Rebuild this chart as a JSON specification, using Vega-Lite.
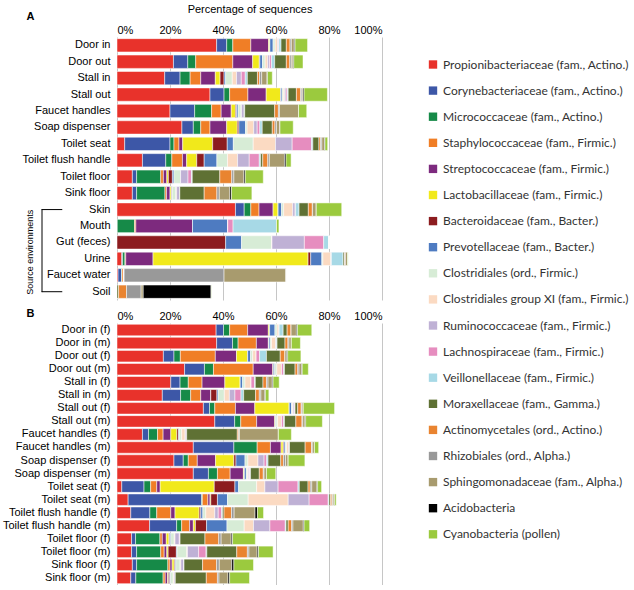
{
  "$schema": "https://vega.github.io/schema/vega-lite/v6.json",
  "background": "white",
  "padding": {"left": 1, "top": 3, "right": 0, "bottom": 0},
  "spacing": 7,
  "config": {
    "view": {"stroke": null},
    "font": "Liberation Sans",
    "axis": {
      "labelFont": "Liberation Sans", "labelFontSize": 11, "labelColor": "black",
      "titleFont": "Liberation Sans", "titleFontSize": 11, "titleFontWeight": "normal", "titleColor": "black",
      "domain": false, "ticks": false, "gridColor": "#c6c6c6", "gridWidth": 1
    },
    "legend": {
      "orient": "none", "legendX": 310, "legendY": 21.5, "padding": 0,
      "symbolType": "square", "symbolSize": 70, "symbolStrokeWidth": 0,
      "labelFont": "Lato", "labelFontSize": 12, "labelColor": "#333333", "labelLimit": 400,
      "rowPadding": 14.1, "labelOffset": 4
    }
  },
  "datasets": {
    "taxa": [
      {"k": "a", "taxon": "Propionibacteriaceae (fam., Actino.)", "ord": 1},
      {"k": "b", "taxon": "Corynebacteriaceae (fam., Actino.)", "ord": 2},
      {"k": "c", "taxon": "Micrococcaceae (fam., Actino.)", "ord": 3},
      {"k": "d", "taxon": "Staphylococcaceae (fam., Firmic.)", "ord": 4},
      {"k": "e", "taxon": "Streptococcaceae (fam., Firmic.)", "ord": 5},
      {"k": "f", "taxon": "Lactobacillaceae (fam., Firmic.)", "ord": 6},
      {"k": "g", "taxon": "Bacteroidaceae (fam., Bacter.)", "ord": 7},
      {"k": "h", "taxon": "Prevotellaceae (fam., Bacter.)", "ord": 8},
      {"k": "i", "taxon": "Clostridiales (ord., Firmic.)", "ord": 9},
      {"k": "j", "taxon": "Clostridiales group XI (fam., Firmic.)", "ord": 10},
      {"k": "k", "taxon": "Ruminococcaceae (fam., Firmic.)", "ord": 11},
      {"k": "l", "taxon": "Lachnospiraceae (fam., Firmic.)", "ord": 12},
      {"k": "m", "taxon": "Veillonellaceae (fam., Firmic.)", "ord": 13},
      {"k": "n", "taxon": "Moraxellaceae (fam., Gamma.)", "ord": 14},
      {"k": "o", "taxon": "Actinomycetales (ord., Actino.)", "ord": 15},
      {"k": "p", "taxon": "Rhizobiales (ord., Alpha.)", "ord": 16},
      {"k": "q", "taxon": "Sphingomonadaceae (fam., Alpha.)", "ord": 17},
      {"k": "r", "taxon": "Acidobacteria", "ord": 18},
      {"k": "s", "taxon": "Cyanobacteria (pollen)", "ord": 19}
    ],
    "rows": [
      {"panel":"A","lab":"Door in","a":37.6,"b":3.8,"c":2.3,"d":6.8,"e":6.7,"f":0.5,"g":0,"h":1.2,"i":0.8,"j":0.9,"k":0.3,"l":0.2,"m":0.8,"n":2,"o":1.4,"p":0.5,"q":1.1,"r":0.3,"s":4.7},
      {"panel":"A","lab":"Door out","a":21.3,"b":5.4,"c":3,"d":14,"e":7.5,"f":2.5,"g":0.2,"h":1,"i":1,"j":1,"k":0.7,"l":0.7,"m":1.2,"n":4.4,"o":1.3,"p":0.6,"q":0.6,"r":0.3,"s":3.5},
      {"panel":"A","lab":"Stall in","a":18,"b":5.8,"c":3.8,"d":4,"e":5.5,"f":1.8,"g":1.5,"h":0.6,"i":2.5,"j":1.6,"k":1.8,"l":1.5,"m":0.8,"n":3.8,"o":0.8,"p":0.8,"q":2,"r":0.2,"s":1.8},
      {"panel":"A","lab":"Stall out","a":35.1,"b":5.3,"c":2.1,"d":6.9,"e":6.9,"f":5.4,"g":0.1,"h":0.5,"i":0.5,"j":0.5,"k":0.5,"l":0.5,"m":0.3,"n":3.1,"o":1.6,"p":0.5,"q":0.4,"r":0.4,"s":8.8},
      {"panel":"A","lab":"Faucet handles","a":20,"b":9.3,"c":6.4,"d":3.6,"e":3.8,"f":1.6,"g":0.4,"h":0.6,"i":1.1,"j":0.2,"k":1,"l":0.1,"m":0.1,"n":11.3,"o":1.4,"p":0.4,"q":7.2,"r":0,"s":3.1},
      {"panel":"A","lab":"Soap dispenser","a":24.5,"b":4.3,"c":2.8,"d":3.5,"e":6.3,"f":4,"g":0.6,"h":2.5,"i":0.6,"j":2.5,"k":1.3,"l":1,"m":0.9,"n":3.8,"o":1,"p":0.6,"q":1.3,"r":0,"s":5},
      {"panel":"A","lab":"Toilet seat","a":2.9,"b":17.1,"c":1.5,"d":1.9,"e":1.4,"f":11.3,"g":5.5,"h":2.3,"i":7.5,"j":8.4,"k":6.3,"l":7.3,"m":0.5,"n":2.3,"o":0.6,"p":0.5,"q":1,"r":0.2,"s":1},
      {"panel":"A","lab":"Toilet flush handle","a":9.6,"b":8.8,"c":2.3,"d":4,"e":1.6,"f":3.8,"g":2.8,"h":4.8,"i":4,"j":3.8,"k":4.4,"l":3.8,"m":0.5,"n":0.8,"o":1.9,"p":0.6,"q":5.7,"r":0.6,"s":1.9},
      {"panel":"A","lab":"Toilet floor","a":5.8,"b":1.6,"c":9.1,"d":1,"e":1.3,"f":0.6,"g":1.5,"h":0.6,"i":2.5,"j":0,"k":2.8,"l":1.3,"m":0.3,"n":10.4,"o":4.5,"p":0.8,"q":3.8,"r":0.5,"s":6.8},
      {"panel":"A","lab":"Sink floor","a":5.8,"b":1.6,"c":10.7,"d":0.6,"e":1.3,"f":0.5,"g":0.2,"h":0.2,"i":1.3,"j":0.3,"k":1.2,"l":0,"m":0,"n":9.2,"o":4.8,"p":0.9,"q":4,"r":0.6,"s":7.7},
      {"panel":"A","lab":"Skin","a":44.7,"b":3.3,"c":2.5,"d":3.1,"e":5.3,"f":1.9,"g":0,"h":1.3,"i":0.8,"j":3.4,"k":0.9,"l":0.2,"m":1.3,"n":3.5,"o":1.5,"p":0.1,"q":1.4,"r":0,"s":9.6},
      {"panel":"A","lab":"Mouth","a":0.1,"b":0,"c":6.5,"d":0.5,"e":21.4,"f":0,"g":0,"h":13.3,"i":0,"j":0,"k":0,"l":2,"m":16.4,"n":0,"o":0,"p":0,"q":0,"r":0,"s":0.9},
      {"panel":"A","lab":"Gut (feces)","a":0,"b":0,"c":0,"d":0,"e":0,"f":0,"g":41,"h":6,"i":11.3,"j":0.2,"k":12.2,"l":7.3,"m":2,"n":0,"o":0,"p":0,"q":0,"r":0,"s":0},
      {"panel":"A","lab":"Urine","a":1.8,"b":0.3,"c":0.9,"d":0.3,"e":10.3,"f":58.5,"g":1,"h":4.2,"i":0.4,"j":3,"k":0.1,"l":0.1,"m":4.4,"n":0.5,"o":0.2,"p":0.2,"q":0.8,"r":0,"s":0.2},
      {"panel":"A","lab":"Faucet water","a":0.4,"b":1.3,"c":0.2,"d":0.8,"e":0,"f":0,"g":0,"h":0,"i":0,"j":0,"k":0,"l":0,"m":0,"n":0,"o":0,"p":37.7,"q":23.4,"r":0,"s":0},
      {"panel":"A","lab":"Soil","a":0,"b":0,"c":0,"d":0,"e":0,"f":0,"g":0,"h":0,"i":0,"j":0,"k":0,"l":0,"m":0,"n":0.6,"o":3,"p":5.5,"q":0.8,"r":25.6,"s":0.1},
      {"panel":"B","lab":"Door in (f)","a":37.4,"b":2.8,"c":2.3,"d":6.8,"e":7.8,"f":0.5,"g":0,"h":2,"i":0.8,"j":0.8,"k":0,"l":0,"m":1.5,"n":1.5,"o":1.5,"p":0,"q":2,"r":0.4,"s":5.4},
      {"panel":"B","lab":"Door in (m)","a":37.6,"b":6,"c":2.1,"d":6.9,"e":4.5,"f":0.2,"g":0,"h":0.5,"i":0.5,"j":1.5,"k":0.3,"l":0,"m":0.3,"n":3,"o":1.1,"p":0.4,"q":0.9,"r":0,"s":3.4},
      {"panel":"B","lab":"Door out (f)","a":17.5,"b":4,"c":2.4,"d":13.2,"e":8,"f":4.2,"g":0,"h":1.1,"i":0.8,"j":1.3,"k":0,"l":1.3,"m":2.6,"n":5.2,"o":1.8,"p":0,"q":0.6,"r":0.4,"s":5},
      {"panel":"B","lab":"Door out (m)","a":25.5,"b":7.5,"c":3.4,"d":15,"e":7.3,"f":0,"g":0.3,"h":0.5,"i":0.8,"j":1.8,"k":0,"l":0.8,"m":0.3,"n":4,"o":1,"p":0.5,"q":1,"r":0.2,"s":2.3},
      {"panel":"B","lab":"Stall in (f)","a":20.3,"b":3.5,"c":3.1,"d":5.2,"e":8.6,"f":5.8,"g":0,"h":0.9,"i":0.9,"j":2.3,"k":0,"l":1.3,"m":0.3,"n":2.9,"o":1.3,"p":0.6,"q":1.6,"r":0.3,"s":2.3},
      {"panel":"B","lab":"Stall in (m)","a":17.1,"b":6.9,"c":3.8,"d":3.8,"e":3.8,"f":0,"g":2.3,"h":0.5,"i":2.3,"j":1.9,"k":2.1,"l":2.3,"m":1,"n":4.5,"o":1.4,"p":0.6,"q":1.5,"r":0.2,"s":1.3},
      {"panel":"B","lab":"Stall out (f)","a":32.6,"b":2.3,"c":2,"d":7.8,"e":7.3,"f":13,"g":0,"h":0.9,"i":0.2,"j":0.3,"k":0.4,"l":0.3,"m":0.1,"n":1,"o":1.3,"p":0.3,"q":0.5,"r":0,"s":11.8},
      {"panel":"B","lab":"Stall out (m)","a":36.9,"b":7.5,"c":2.3,"d":6,"e":6.8,"f":0.3,"g":0,"h":0.2,"i":0.6,"j":1.5,"k":0,"l":0.8,"m":0.3,"n":4.3,"o":2.3,"p":0.3,"q":0.8,"r":0.3,"s":6.3},
      {"panel":"B","lab":"Faucet handles (f)","a":9.6,"b":2.3,"c":3.4,"d":2.1,"e":2.9,"f":2.3,"g":0.6,"h":0.3,"i":0.9,"j":1.3,"k":0.3,"l":0.3,"m":0,"n":19.1,"o":0.5,"p":0.3,"q":14.7,"r":0,"s":4.9},
      {"panel":"B","lab":"Faucet handles (m)","a":28.8,"b":15.3,"c":8.8,"d":5,"e":4,"f":0.8,"g":0.3,"h":0.5,"i":0.5,"j":0.8,"k":0.3,"l":0,"m":0,"n":5.9,"o":2.4,"p":0.3,"q":0.8,"r":0,"s":1.6},
      {"panel":"B","lab":"Soap dispenser (f)","a":21.5,"b":3.5,"c":1.9,"d":3.4,"e":6.9,"f":6.9,"g":0.8,"h":3.4,"i":1.1,"j":3.8,"k":2.3,"l":1,"m":0.5,"n":4.8,"o":1,"p":0.8,"q":1,"r":0,"s":6.3},
      {"panel":"B","lab":"Soap dispenser (m)","a":28.8,"b":5.7,"c":3.4,"d":4.8,"e":5,"f":0.3,"g":0.1,"h":0.7,"i":0.4,"j":0.4,"k":0.4,"l":0.2,"m":0.2,"n":3.3,"o":1.5,"p":0.3,"q":0.9,"r":0,"s":3.5},
      {"panel":"B","lab":"Toilet seat (f)","a":1.8,"b":8.4,"c":2.5,"d":2.3,"e":1.3,"f":20.4,"g":7.8,"h":1.4,"i":6.8,"j":3.1,"k":5,"l":7.5,"m":0.5,"n":3.3,"o":0.8,"p":0.6,"q":1.9,"r":0.3,"s":1.5},
      {"panel":"B","lab":"Toilet seat (m)","a":4.2,"b":27.7,"c":0.3,"d":2.1,"e":0.8,"f":0.3,"g":2.5,"h":3.8,"i":7.8,"j":15.1,"k":7.9,"l":7.2,"m":0.3,"n":0.6,"o":0.5,"p":0.3,"q":0.5,"r":0.2,"s":0.6},
      {"panel":"B","lab":"Toilet flush handle (f)","a":5.2,"b":7.2,"c":2.6,"d":5.3,"e":1.6,"f":9.1,"g":0.6,"h":0.8,"i":1.1,"j":3.4,"k":1.3,"l":1.3,"m":0.3,"n":0.6,"o":2.8,"p":1,"q":7.9,"r":0.9,"s":2.3},
      {"panel":"B","lab":"Toilet flush handle (m)","a":12.3,"b":10.2,"c":1.9,"d":3,"e":1.4,"f":0.8,"g":4.2,"h":7.7,"i":6.5,"j":3.5,"k":6.2,"l":5.8,"m":0.3,"n":0.8,"o":1.3,"p":0.5,"q":3.9,"r":0.3,"s":2.1},
      {"panel":"B","lab":"Toilet floor (f)","a":5.5,"b":1.5,"c":9.2,"d":0.9,"e":1.5,"f":1,"g":0.3,"h":0.4,"i":1.3,"j":0.3,"k":1.6,"l":0.3,"m":0,"n":9.4,"o":5.2,"p":0.9,"q":3.8,"r":0.5,"s":8.6},
      {"panel":"B","lab":"Toilet floor (m)","a":5.5,"b":1.9,"c":9.1,"d":1.3,"e":1,"f":0.5,"g":3.1,"h":0.3,"i":3.6,"j":0.3,"k":4.2,"l":2.8,"m":0.3,"n":11.3,"o":4,"p":0.6,"q":3.1,"r":0.5,"s":5.5},
      {"panel":"B","lab":"Sink floor (f)","a":5.8,"b":1.6,"c":11.8,"d":0.8,"e":0.8,"f":0.8,"g":0.3,"h":0.3,"i":1.6,"j":0.3,"k":1.2,"l":0,"m":0,"n":7,"o":5.3,"p":1,"q":4.7,"r":0.8,"s":7.4},
      {"panel":"B","lab":"Sink floor (m)","a":5.2,"b":1.9,"c":10.3,"d":0.8,"e":0.9,"f":0.3,"g":0.5,"h":0.3,"i":1,"j":0.3,"k":0.5,"l":0,"m":0,"n":11.7,"o":4.2,"p":0.6,"q":3.4,"r":0.6,"s":7.5}
    ]
  },
  "vconcat": [
    {
      "width": 265,
      "height": 263,
      "layer": [
        {
          "data": {"name": "rows"},
          "transform": [
            {"filter": "datum.panel === 'A'"},
            {"fold": ["a","b","c","d","e","f","g","h","i","j","k","l","m","n","o","p","q","r","s"], "as": ["key","v"]},
            {"lookup": "key", "from": {"data": {"name": "taxa"}, "key": "k", "fields": ["taxon","ord"]}}
          ],
          "mark": {"type": "bar", "stroke": "white", "strokeWidth": 0.5},
          "encoding": {
            "x": {"field": "v", "type": "quantitative", "stack": "zero",
                  "scale": {"domain": [0, 100], "nice": false},
                  "axis": {"orient": "top", "values": [0,20,40,60,80,100], "labelExpr": "datum.value + '%'", "title": "Percentage of sequences", "grid": true, "labelPadding": 2, "titlePadding": 9.5}},
            "y": {"field": "lab", "type": "nominal",
                  "scale": {"domain": ["Door in","Door out","Stall in","Stall out","Faucet handles","Soap dispenser","Toilet seat","Toilet flush handle","Toilet floor","Sink floor","Skin","Mouth","Gut (feces)","Urine","Faucet water","Soil"], "paddingInner": 0.19, "paddingOuter": 0.1},
                  "axis": {"title": "A", "titleAngle": 0, "titleX": -91, "titleY": -21, "titleAlign": "left", "titleBaseline": "middle", "titleFontWeight": "bold", "titleFontSize": 11, "labelPadding": 7, "minExtent": 116}},
            "color": {"field": "taxon", "type": "nominal", "title": null,
                      "scale": {"domain": ["Propionibacteriaceae (fam., Actino.)","Corynebacteriaceae (fam., Actino.)","Micrococcaceae (fam., Actino.)","Staphylococcaceae (fam., Firmic.)","Streptococcaceae (fam., Firmic.)","Lactobacillaceae (fam., Firmic.)","Bacteroidaceae (fam., Bacter.)","Prevotellaceae (fam., Bacter.)","Clostridiales (ord., Firmic.)","Clostridiales group XI (fam., Firmic.)","Ruminococcaceae (fam., Firmic.)","Lachnospiraceae (fam., Firmic.)","Veillonellaceae (fam., Firmic.)","Moraxellaceae (fam., Gamma.)","Actinomycetales (ord., Actino.)","Rhizobiales (ord., Alpha.)","Sphingomonadaceae (fam., Alpha.)","Acidobacteria","Cyanobacteria (pollen)"],
                                "range": ["#E8322B","#3D57A7","#168A48","#F07E26","#7D2A7E","#F1E91B","#8C1C1F","#4E7BC1","#D7ECD6","#FBDAC2","#BFB1D5","#E68DBF","#A7D9E6","#5F7134","#E98430","#999999","#A89B6E","#000000","#9BCA3E"]}},
            "order": {"field": "ord", "type": "quantitative"}
          }
        },
        {
          "data": {"values": [{}]},
          "mark": {"type": "rule", "color": "black", "strokeWidth": 1, "strokeCap": "round"},
          "encoding": {"x": {"datum": -28.3, "type": "quantitative"}, "y": {"datum": "Skin", "type": "nominal"}, "y2": {"datum": "Soil"}}
        },
        {
          "data": {"values": [{}]},
          "mark": {"type": "rule", "color": "black", "strokeWidth": 1, "strokeCap": "round"},
          "encoding": {"x": {"datum": -28.3, "type": "quantitative"}, "x2": {"datum": -20.8}, "y": {"datum": "Skin", "type": "nominal"}}
        },
        {
          "data": {"values": [{}]},
          "mark": {"type": "rule", "color": "black", "strokeWidth": 1, "strokeCap": "round"},
          "encoding": {"x": {"datum": -28.3, "type": "quantitative"}, "x2": {"datum": -20.8}, "y": {"datum": "Soil", "type": "nominal"}}
        },
        {
          "data": {"values": [{}]},
          "mark": {"type": "text", "angle": 270, "fontSize": 9, "font": "Liberation Sans", "color": "black", "align": "center", "baseline": "middle"},
          "encoding": {"x": {"datum": -32.8, "type": "quantitative"}, "y": {"datum": "Urine", "type": "nominal", "bandPosition": 0}, "text": {"value": "Source environments"}}
        }
      ]
    },
    {
      "width": 265,
      "height": 262,
      "data": {"name": "rows"},
      "transform": [
        {"filter": "datum.panel === 'B'"},
        {"fold": ["a","b","c","d","e","f","g","h","i","j","k","l","m","n","o","p","q","r","s"], "as": ["key","v"]},
        {"lookup": "key", "from": {"data": {"name": "taxa"}, "key": "k", "fields": ["taxon","ord"]}}
      ],
      "mark": {"type": "bar", "stroke": "white", "strokeWidth": 0.5},
      "encoding": {
        "x": {"field": "v", "type": "quantitative", "stack": "zero",
              "scale": {"domain": [0, 100], "nice": false},
              "axis": {"orient": "top", "values": [0,20,40,60,80,100], "labelExpr": "datum.value + '%'", "title": null, "grid": true, "labelPadding": 2}},
        "y": {"field": "lab", "type": "nominal",
              "scale": {"domain": ["Door in (f)","Door in (m)","Door out (f)","Door out (m)","Stall in (f)","Stall in (m)","Stall out (f)","Stall out (m)","Faucet handles (f)","Faucet handles (m)","Soap dispenser (f)","Soap dispenser (m)","Toilet seat (f)","Toilet seat (m)","Toilet flush handle (f)","Toilet flush handle (m)","Toilet floor (f)","Toilet floor (m)","Sink floor (f)","Sink floor (m)"], "paddingInner": 0.12, "paddingOuter": 0.1},
              "axis": {"title": "B", "titleAngle": 0, "titleX": -91, "titleY": -9.5, "titleAlign": "left", "titleBaseline": "middle", "titleFontWeight": "bold", "titleFontSize": 11, "labelPadding": 7, "minExtent": 116}},
        "color": {"field": "taxon", "type": "nominal", "title": null},
        "order": {"field": "ord", "type": "quantitative"}
      }
    }
  ]
}
